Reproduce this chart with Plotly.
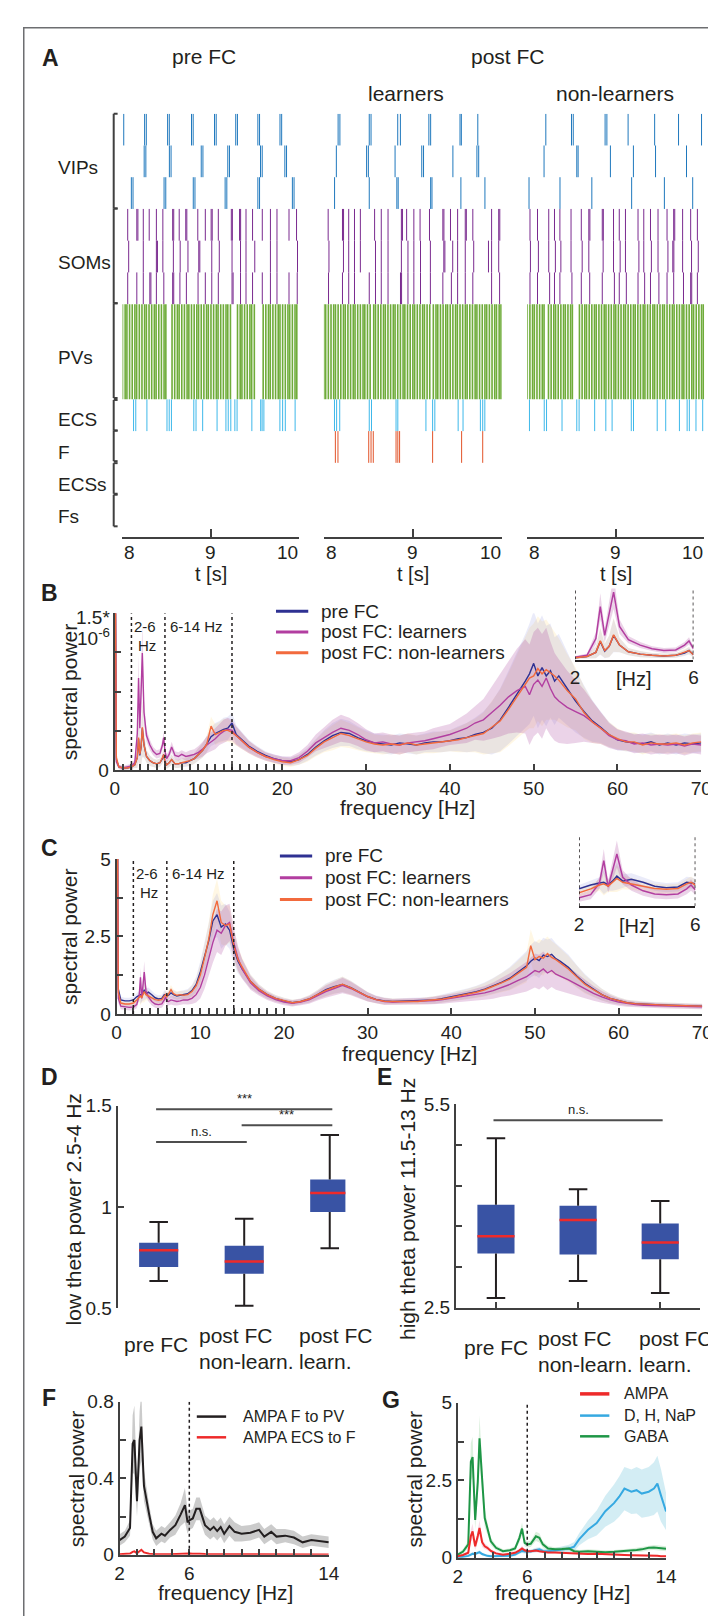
import plotly.graph_objects as go

W, H = 716, 1616
FONT = "Liberation Sans, Arial, Helvetica, sans-serif"
INK = "#231f20"
AXC = "#404040"

# ---------------- Panel A: spike rasters (times in s) ----------------
VIP_PRE = [[8.014, 8.250, 8.269, 8.510, 8.529, 8.780, 8.799, 9.040, 9.059, 9.280, 9.299, 9.530, 9.549, 9.780, 9.799],
           [8.245, 8.264, 8.530, 8.549, 8.890, 8.909, 9.190, 9.209, 9.560, 9.579, 9.835, 9.854],
           [8.100, 8.119, 8.470, 8.489, 8.800, 8.819, 9.160, 9.179, 9.530, 9.549, 9.920, 9.939]]
VIP_LEARN = [[8.160, 8.180, 8.510, 8.530, 8.830, 8.860, 9.180, 9.200, 9.530, 9.545, 9.730],
             [8.140, 8.480, 8.500, 8.800, 9.100, 9.120, 9.450, 9.720, 9.740],
             [8.120, 8.510, 8.820, 8.835, 9.200, 9.215, 9.540, 9.810]]
VIP_NON = [[8.210, 8.500, 8.520, 8.880, 8.900, 9.140, 9.440, 9.710, 9.970],
           [8.190, 8.560, 8.575, 8.940, 9.200, 9.450, 9.800],
           [8.020, 8.370, 8.730, 9.180, 9.550, 9.870]]

SOM_PRE = [[8.059, 8.162, 8.174, 8.235, 8.302, 8.383, 8.456, 8.567, 8.579, 8.641, 8.715, 8.727, 8.851, 8.936, 9.002, 9.014,
            9.083, 9.230, 9.242, 9.323, 9.335, 9.396, 9.470, 9.580, 9.672, 9.746, 9.882, 9.967],
           [8.070, 8.235, 8.383, 8.395, 8.456, 8.575, 8.652, 8.740, 8.862, 8.874, 9.009, 9.094, 9.238, 9.334, 9.396, 9.495,
            9.672, 9.746, 9.978],
           [8.059, 8.162, 8.235, 8.309, 8.321, 8.383, 8.467, 8.567, 8.579, 8.649, 8.722, 8.854, 8.936, 9.009, 9.083, 9.238,
            9.250, 9.334, 9.396, 9.470, 9.580, 9.672, 9.746, 9.882, 9.975]]
SOM_LEARN = [[8.048, 8.209, 8.221, 8.279, 8.344, 8.410, 8.570, 8.645, 8.721, 8.871, 8.883, 8.930, 9.011, 9.081, 9.187, 9.337,
              9.349, 9.423, 9.503, 9.589, 9.601, 9.674, 9.885, 9.965, 9.977],
             [8.057, 8.220, 8.279, 8.344, 8.410, 8.580, 8.645, 8.721, 8.871, 8.945, 9.011, 9.086, 9.197, 9.348, 9.360, 9.448,
              9.503, 9.589, 9.684, 9.850, 9.885, 9.965],
             [8.052, 8.209, 8.279, 8.344, 8.510, 8.580, 8.645, 8.721, 8.861, 8.873, 8.945, 9.011, 9.086, 9.197, 9.337, 9.433,
              9.503, 9.589, 9.674, 9.885, 9.975]]
SOM_NON = [[8.031, 8.116, 8.243, 8.308, 8.369, 8.495, 8.611, 8.696, 8.708, 8.848, 8.860, 8.975, 9.040, 9.110, 9.252, 9.317,
            9.393, 9.478, 9.580, 9.655, 9.667, 9.756, 9.847, 9.923],
           [8.036, 8.126, 8.243, 8.318, 8.380, 8.495, 8.621, 8.696, 8.858, 8.975, 9.050, 9.110, 9.262, 9.317, 9.403, 9.478,
            9.590, 9.645, 9.657, 9.756, 9.857, 9.933],
           [8.031, 8.116, 8.253, 8.308, 8.369, 8.505, 8.611, 8.706, 8.848, 8.985, 9.040, 9.120, 9.252, 9.327, 9.393, 9.488,
            9.580, 9.655, 9.766, 9.847, 9.859, 9.923]]

PV_PRE = [8.00, 8.03, 8.05, 8.08, 8.11, 8.14, 8.16, 8.19, 8.22, 8.25, 8.27, 8.30, 8.33, 8.36, 8.38, 8.41, 8.44, 8.47, 8.49,
          8.56, 8.59, 8.62, 8.64, 8.67, 8.70, 8.73, 8.75, 8.78, 8.81, 8.84, 8.86, 8.89, 8.92, 8.95, 8.97, 9.00, 9.03, 9.06,
          9.08, 9.11, 9.14, 9.17, 9.19, 9.22, 9.30, 9.33, 9.35, 9.38, 9.41, 9.44, 9.46, 9.49, 9.59, 9.62, 9.65, 9.67, 9.70,
          9.73, 9.76, 9.78, 9.81, 9.84, 9.87, 9.89, 9.92, 9.95, 9.97]
PV_LEARN = [8.00, 8.02, 8.05, 8.08, 8.11, 8.13, 8.16, 8.19, 8.22, 8.24, 8.27, 8.30, 8.33, 8.35, 8.38, 8.41, 8.44, 8.46, 8.49,
            8.52, 8.56, 8.58, 8.61, 8.64, 8.67, 8.69, 8.72, 8.75, 8.78, 8.80, 8.83, 8.86, 8.89, 8.91, 8.94, 8.97, 9.00, 9.02,
            9.05, 9.08, 9.11, 9.13, 9.16, 9.19, 9.23, 9.26, 9.28, 9.31, 9.34, 9.37, 9.39, 9.42, 9.45, 9.48, 9.50, 9.53, 9.56,
            9.59, 9.61, 9.64, 9.67, 9.70, 9.72, 9.75, 9.78, 9.81, 9.83, 9.86, 9.89, 9.92, 9.94, 9.97, 9.99]
PV_NON = [8.00, 8.03, 8.06, 8.08, 8.11, 8.14, 8.17, 8.19, 8.24, 8.27, 8.30, 8.32, 8.35, 8.38, 8.41, 8.43, 8.46, 8.49, 8.51,
          8.59, 8.62, 8.65, 8.67, 8.70, 8.73, 8.76, 8.78, 8.81, 8.84, 8.87, 8.89, 8.92, 8.95, 8.98, 9.00, 9.03, 9.06, 9.09,
          9.11, 9.14, 9.17, 9.20, 9.22, 9.25, 9.28, 9.31, 9.33, 9.36, 9.39, 9.42, 9.44, 9.47, 9.50, 9.53, 9.55, 9.58, 9.61,
          9.64, 9.66, 9.69, 9.72, 9.75, 9.77, 9.80, 9.83, 9.86, 9.88, 9.91, 9.94, 9.97, 9.99]

ECS_PRE = [8.125, 8.150, 8.276, 8.503, 8.528, 8.553, 8.806, 8.831, 8.906, 9.069, 9.169, 9.195, 9.224, 9.270, 9.295, 9.462,
           9.562, 9.578, 9.598, 9.779, 9.810, 9.840, 9.951]
ECS_LEARN = [8.119, 8.143, 8.178, 8.510, 8.535, 8.811, 8.831, 9.147, 9.222, 9.247, 9.509, 9.564, 9.759, 9.785, 9.809]
ECS_NON = [8.025, 8.192, 8.218, 8.393, 8.560, 8.586, 8.762, 8.888, 8.959, 9.176, 9.201, 9.469, 9.565, 9.720, 9.807, 9.832,
           9.907, 9.983]
F_LEARN = [8.129, 8.158, 8.504, 8.530, 8.555, 8.811, 8.831, 8.851, 9.222, 9.548, 9.785]

RASTER_TITLES = ["pre FC", "post FC", "learners", "non-learners"]
ROW_LABELS = ["VIPs", "SOMs", "PVs", "ECS", "F", "ECSs", "Fs"]
T_TICKS = [8, 9, 10]

# ---------------- Panels B & C: spectra ----------------
FREQ = [0, 0.2, 0.5, 1, 1.5, 2,
        2.4, 2.7, 2.85, 3.0, 3.15, 3.3, 3.5, 3.8, 4.2, 4.6, 5.0, 5.4, 5.7, 5.85, 6.0, 6.2, 6.5, 6.8, 7.2, 7.6, 8,
        8.5, 9, 9.5, 10, 10.5, 11, 11.5, 12, 12.5, 13, 13.5, 14, 14.5,
        15, 16, 17, 18, 19, 20, 21, 22, 23, 24, 25, 26, 27, 28, 29, 30, 31, 32, 33, 34, 35, 36, 37, 38, 39, 40,
        41, 42, 43, 44, 45, 46, 47, 48, 49,
        49.5, 50, 50.5, 51, 51.5, 52, 52.5, 53,
        54, 55, 56, 57, 58, 59, 60, 61, 62, 63, 64, 65, 66, 67, 68, 69, 70]

B_PRE = [3.0, 0.10, 0.03, 0.02, 0.02, 0.03,
         0.05, 0.12, 0.30, 0.14, 0.22, 0.40, 0.24, 0.13, 0.09, 0.07, 0.06, 0.07, 0.11, 0.15, 0.08, 0.05, 0.07, 0.10, 0.06, 0.06, 0.07,
         0.07, 0.09, 0.11, 0.15, 0.19, 0.25, 0.32, 0.35, 0.37, 0.39, 0.40, 0.45, 0.34,
         0.30, 0.23, 0.18, 0.14, 0.11, 0.09, 0.08, 0.10, 0.15, 0.22, 0.28, 0.33, 0.36, 0.35, 0.31, 0.28, 0.26, 0.25, 0.24, 0.26,
         0.25, 0.24, 0.26, 0.27, 0.27, 0.28, 0.30, 0.31, 0.34, 0.36, 0.40, 0.48, 0.60, 0.72, 0.85,
         0.92, 1.02, 0.90, 0.98, 0.90, 0.95, 0.85, 0.90,
         0.78, 0.66, 0.56, 0.47, 0.41, 0.34, 0.29, 0.27, 0.26, 0.25, 0.27, 0.24, 0.26, 0.24, 0.26, 0.25, 0.26]
B_LEARN = [3.0, 0.08, 0.03, 0.02, 0.03, 0.04,
           0.07, 0.35, 0.88, 0.40, 0.75, 1.12, 0.55, 0.33, 0.24, 0.18, 0.15, 0.16, 0.24, 0.31, 0.18, 0.11, 0.15, 0.22, 0.14, 0.13, 0.15,
           0.13, 0.14, 0.15, 0.17, 0.20, 0.24, 0.27, 0.30, 0.34, 0.37, 0.39, 0.38, 0.33,
           0.29, 0.22, 0.17, 0.13, 0.11, 0.09, 0.09, 0.12, 0.18, 0.26, 0.31, 0.36, 0.40, 0.38, 0.34, 0.29, 0.26, 0.27, 0.25, 0.24,
           0.26, 0.27, 0.28, 0.30, 0.32, 0.34, 0.37, 0.40, 0.45, 0.48, 0.55, 0.62, 0.70, 0.76, 0.80,
           0.72, 0.82, 0.86, 0.80, 0.88, 0.78, 0.70, 0.66,
           0.60, 0.56, 0.52, 0.46, 0.40, 0.33, 0.29, 0.28, 0.25, 0.26, 0.24, 0.25, 0.24, 0.25, 0.23, 0.25, 0.24]
B_NON = [3.0, 0.12, 0.03, 0.02, 0.02, 0.03,
         0.05, 0.12, 0.31, 0.15, 0.22, 0.41, 0.24, 0.13, 0.09, 0.07, 0.06, 0.07, 0.12, 0.15, 0.08, 0.05, 0.07, 0.10, 0.06, 0.06, 0.07,
         0.08, 0.09, 0.11, 0.15, 0.19, 0.25, 0.42, 0.34, 0.36, 0.38, 0.38, 0.36, 0.33,
         0.29, 0.22, 0.17, 0.13, 0.10, 0.08, 0.07, 0.10, 0.14, 0.21, 0.27, 0.31, 0.35, 0.33, 0.30, 0.27, 0.25, 0.24, 0.25, 0.24,
         0.26, 0.24, 0.25, 0.26, 0.27, 0.28, 0.29, 0.31, 0.33, 0.35, 0.41, 0.47, 0.58, 0.70, 0.82,
         0.88, 0.90, 0.97, 0.92, 0.96, 0.93, 0.90, 0.86,
         0.76, 0.68, 0.55, 0.46, 0.40, 0.34, 0.30, 0.27, 0.27, 0.24, 0.26, 0.25, 0.25, 0.26, 0.24, 0.26, 0.27]
B_ERR = [0.0, 0.03, 0.02, 0.02, 0.02, 0.02,
         0.03, 0.10, 0.22, 0.12, 0.18, 0.28, 0.12, 0.06, 0.05, 0.04, 0.04, 0.04, 0.05, 0.06, 0.04, 0.04, 0.04, 0.05, 0.04, 0.04, 0.04,
         0.04, 0.05, 0.05, 0.06, 0.07, 0.08, 0.09, 0.10, 0.10, 0.11, 0.11, 0.10, 0.09,
         0.08, 0.06, 0.05, 0.04, 0.04, 0.04, 0.04, 0.05, 0.06, 0.08, 0.10, 0.12, 0.13, 0.12, 0.11, 0.10, 0.09, 0.09, 0.09, 0.09,
         0.09, 0.09, 0.09, 0.10, 0.10, 0.10, 0.12, 0.14, 0.16, 0.20, 0.25, 0.30, 0.35, 0.40, 0.45,
         0.48, 0.50, 0.50, 0.50, 0.48, 0.45, 0.42, 0.40,
         0.35, 0.30, 0.25, 0.20, 0.15, 0.12, 0.10, 0.09, 0.09, 0.09, 0.09, 0.09, 0.09, 0.09, 0.09, 0.09, 0.09]

C_PRE = [12, 0.80, 0.45, 0.42, 0.42, 0.45,
         0.55, 0.60, 0.62, 0.55, 0.65, 0.78, 0.65, 0.70, 0.62, 0.52, 0.48, 0.50, 0.62, 0.60, 0.58, 0.60, 0.68, 0.62, 0.58, 0.60, 0.62,
         0.65, 0.75, 0.95, 1.35, 1.85, 2.35, 3.00, 3.20, 2.80, 2.90, 2.70, 2.10, 1.70,
         1.45, 1.05, 0.80, 0.62, 0.50, 0.42, 0.36, 0.40, 0.48, 0.62, 0.78, 0.88, 0.95, 0.85, 0.70, 0.56, 0.47, 0.42, 0.40, 0.41,
         0.40, 0.42, 0.43, 0.45, 0.50, 0.55, 0.60, 0.66, 0.72, 0.80, 0.90, 1.02, 1.15, 1.35, 1.55,
         1.70, 1.80, 1.72, 1.90, 1.85, 1.92, 1.78, 1.70,
         1.50, 1.22, 0.98, 0.80, 0.62, 0.50, 0.42, 0.36, 0.33, 0.31, 0.30, 0.29, 0.28, 0.27, 0.26, 0.26, 0.25]
C_LEARN = [12, 0.50, 0.25, 0.22, 0.21, 0.22,
           0.30, 0.60, 1.18, 0.50, 0.95, 1.35, 0.75, 0.55, 0.40, 0.32, 0.30, 0.32, 0.45, 0.55, 0.42, 0.40, 0.45, 0.42, 0.40, 0.42, 0.45,
           0.45, 0.50, 0.62, 0.85, 1.25, 1.80, 2.30, 2.70, 2.60, 2.85, 2.95, 2.30, 1.80,
           1.45, 1.00, 0.75, 0.58, 0.46, 0.38, 0.34, 0.38, 0.45, 0.58, 0.72, 0.82, 0.92, 0.82, 0.68, 0.55, 0.46, 0.40, 0.38, 0.39,
           0.40, 0.40, 0.41, 0.43, 0.46, 0.50, 0.54, 0.58, 0.63, 0.68, 0.75, 0.85, 0.95, 1.08, 1.20,
           1.30, 1.40, 1.35, 1.45, 1.32, 1.40, 1.28, 1.22,
           1.10, 0.95, 0.80, 0.66, 0.55, 0.45, 0.38, 0.33, 0.30, 0.28, 0.27, 0.26, 0.25, 0.25, 0.24, 0.23, 0.23]
C_NON = [12, 0.70, 0.35, 0.32, 0.32, 0.35,
         0.45, 0.55, 0.58, 0.52, 0.62, 0.72, 0.62, 0.58, 0.52, 0.46, 0.44, 0.46, 0.58, 0.62, 0.55, 0.65, 0.78, 0.65, 0.60, 0.62, 0.60,
         0.62, 0.72, 0.90, 1.25, 1.80, 2.40, 3.20, 3.65, 2.95, 2.85, 2.90, 2.20, 1.75,
         1.50, 1.05, 0.80, 0.62, 0.50, 0.42, 0.36, 0.40, 0.48, 0.62, 0.76, 0.86, 0.96, 0.84, 0.70, 0.56, 0.46, 0.41, 0.40, 0.40,
         0.41, 0.40, 0.43, 0.45, 0.48, 0.53, 0.58, 0.64, 0.70, 0.78, 0.88, 1.00, 1.12, 1.30, 1.50,
         2.20, 1.75, 1.85, 1.80, 1.95, 1.82, 1.75, 1.65,
         1.45, 1.20, 0.95, 0.78, 0.62, 0.50, 0.42, 0.36, 0.33, 0.31, 0.30, 0.29, 0.28, 0.27, 0.26, 0.25, 0.25]
C_ERR = [0.0, 0.15, 0.10, 0.10, 0.10, 0.10,
         0.12, 0.15, 0.30, 0.15, 0.25, 0.35, 0.18, 0.15, 0.13, 0.12, 0.12, 0.12, 0.14, 0.15, 0.13, 0.13, 0.15, 0.14, 0.13, 0.13, 0.14,
         0.15, 0.18, 0.25, 0.35, 0.45, 0.55, 0.65, 0.70, 0.70, 0.65, 0.60, 0.50, 0.40,
         0.32, 0.22, 0.16, 0.13, 0.11, 0.10, 0.10, 0.10, 0.12, 0.15, 0.20, 0.22, 0.25, 0.22, 0.18, 0.15, 0.12, 0.11, 0.10, 0.10,
         0.10, 0.10, 0.11, 0.12, 0.13, 0.14, 0.15, 0.17, 0.19, 0.22, 0.26, 0.30, 0.36, 0.42, 0.48,
         0.52, 0.55, 0.56, 0.56, 0.55, 0.53, 0.50, 0.47,
         0.42, 0.36, 0.30, 0.24, 0.19, 0.15, 0.12, 0.10, 0.09, 0.09, 0.08, 0.08, 0.08, 0.08, 0.08, 0.08, 0.08]

SPEC_NAMES = ["pre FC", "post FC: learners", "post FC: non-learners"]
BANDS = [(2, 6, "2-6", "Hz"), (6, 14, "6-14 Hz", "")]

# ---------------- Panels D & E: box plots ----------------
BOX_CATS = ["pre FC", "post FC\nnon-learn.", "post FC\nlearn."]
D_LO = [0.633, 0.511, 0.795]
D_Q1 = [0.703, 0.669, 0.974]
D_MED = [0.786, 0.730, 1.068]
D_Q3 = [0.823, 0.808, 1.135]
D_HI = [0.925, 0.941, 1.355]
D_SIG = [(0, 2, 1.482, "***"), (1, 2, 1.403, "***"), (0, 1, 1.320, "n.s.")]
E_LO = [2.645, 2.893, 2.718]
E_Q1 = [3.300, 3.286, 3.214]
E_MED = [3.555, 3.796, 3.461]
E_Q3 = [4.020, 4.006, 3.744]
E_HI = [5.000, 4.248, 4.073]
E_SIG = [(0, 2, 5.267, "n.s.")]

# ---------------- Panels F & G ----------------
FF = [2.0, 2.3, 2.6, 2.75, 2.85, 3.0, 3.15, 3.25, 3.4, 3.55, 3.7, 3.9, 4.1, 4.4, 4.6, 4.9, 5.2, 5.5, 5.75, 5.9, 6.0,
      6.2, 6.4, 6.6, 6.9, 7.2, 7.4, 7.6, 7.8, 8.0, 8.3, 8.6, 9.0, 9.5, 10.0, 10.3, 10.7, 11.0, 11.5, 12.0, 12.5, 13.0,
      13.5, 14.0]
F_FPV = [0.077, 0.095, 0.14, 0.58, 0.60, 0.28, 0.60, 0.67, 0.36, 0.28, 0.21, 0.12, 0.086, 0.11, 0.10, 0.13, 0.155,
         0.21, 0.26, 0.17, 0.18, 0.19, 0.24, 0.24, 0.155, 0.13, 0.146, 0.124, 0.145, 0.11, 0.15, 0.12, 0.11, 0.115,
         0.13, 0.095, 0.12, 0.095, 0.10, 0.09, 0.065, 0.077, 0.072, 0.065]
F_FPV_ERR = [0.03, 0.03, 0.04, 0.15, 0.18, 0.08, 0.15, 0.18, 0.08, 0.06, 0.05, 0.04, 0.04, 0.04, 0.04, 0.04, 0.05,
             0.06, 0.09, 0.06, 0.05, 0.05, 0.06, 0.06, 0.05, 0.05, 0.05, 0.05, 0.05, 0.05, 0.05, 0.05, 0.04, 0.04,
             0.04, 0.04, 0.04, 0.04, 0.035, 0.035, 0.03, 0.03, 0.03, 0.03]
F_ECSF = [0.003, 0.004, 0.006, 0.015, 0.018, 0.008, 0.02, 0.026, 0.012, 0.008, 0.005, 0.004, 0.003, 0.003, 0.003,
          0.003, 0.004, 0.005, 0.008, 0.006, 0.006, 0.005, 0.006, 0.005, 0.004, 0.004, 0.004, 0.004, 0.003, 0.003,
          0.003, 0.003, 0.003, 0.003, 0.003, 0.003, 0.003, 0.003, 0.002, 0.002, 0.002, 0.002, 0.002, 0.002]
F_NAMES = ["AMPA F to PV", "AMPA ECS to F"]

GF = [2.0, 2.3, 2.6, 2.75, 2.85, 3.0, 3.15, 3.25, 3.4, 3.55, 3.7, 3.9, 4.2, 4.6, 5.0, 5.3, 5.55, 5.7, 5.85, 6.0,
      6.2, 6.5, 6.7, 6.9, 7.2, 7.6, 8.0, 8.4, 8.7, 9.0, 9.5, 10.0, 10.5, 11.0, 11.3, 11.6, 12.0, 12.3, 12.6, 13.0,
      13.3, 13.5, 13.7, 14.0]
G_AMPA = [0.05, 0.09, 0.16, 0.70, 0.85, 0.37, 0.70, 0.96, 0.50, 0.37, 0.32, 0.22, 0.14, 0.10, 0.13, 0.16, 0.24, 0.30,
          0.24, 0.21, 0.21, 0.23, 0.21, 0.19, 0.17, 0.17, 0.16, 0.15, 0.14, 0.13, 0.12, 0.13, 0.11, 0.10, 0.09, 0.09,
          0.08, 0.08, 0.07, 0.06, 0.06, 0.06, 0.05, 0.05]
G_AMPA_ERR = [0.03, 0.04, 0.06, 0.2, 0.25, 0.12, 0.2, 0.25, 0.15, 0.1, 0.08, 0.06, 0.05, 0.04, 0.04, 0.05, 0.06, 0.08,
              0.06, 0.05, 0.05, 0.05, 0.05, 0.04, 0.04, 0.04, 0.04, 0.04, 0.04, 0.03, 0.03, 0.03, 0.03, 0.03, 0.03, 0.03,
              0.03, 0.03, 0.03, 0.03, 0.03, 0.03, 0.03, 0.03]
G_DHNAP = [0.00, 0.03, 0.06, 0.10, 0.13, 0.12, 0.16, 0.18, 0.12, 0.08, 0.06, 0.05, 0.05, 0.05, 0.06, 0.10, 0.18, 0.22,
           0.20, 0.19, 0.20, 0.25, 0.27, 0.22, 0.21, 0.23, 0.26, 0.30, 0.36, 0.60, 0.90, 1.12, 1.50, 1.76, 1.97, 2.23,
           2.13, 2.18, 2.07, 2.13, 2.23, 2.39, 2.02, 1.49]
G_DHNAP_ERR = [0.03, 0.03, 0.04, 0.05, 0.05, 0.05, 0.05, 0.06, 0.05, 0.04, 0.04, 0.04, 0.04, 0.04, 0.04, 0.05, 0.06,
               0.07, 0.06, 0.06, 0.06, 0.07, 0.07, 0.07, 0.07, 0.08, 0.1, 0.12, 0.15, 0.2, 0.3, 0.4, 0.5, 0.6, 0.65,
               0.7, 0.72, 0.75, 0.78, 0.8, 0.85, 0.9, 0.85, 0.6]
G_GABA = [0.10, 0.20, 0.43, 3.10, 3.25, 1.22, 2.45, 3.85, 2.55, 1.28, 0.96, 0.53, 0.32, 0.21, 0.24, 0.30, 0.64, 0.94,
          0.48, 0.43, 0.45, 0.69, 0.64, 0.43, 0.30, 0.27, 0.28, 0.30, 0.21, 0.19, 0.21, 0.19, 0.18, 0.19, 0.20, 0.21,
          0.23, 0.25, 0.27, 0.32, 0.33, 0.32, 0.31, 0.29]
G_GABA_ERR = [0.05, 0.08, 0.12, 0.6, 0.65, 0.3, 0.5, 0.75, 0.5, 0.3, 0.2, 0.12, 0.08, 0.06, 0.06, 0.08, 0.15, 0.2,
              0.12, 0.1, 0.1, 0.15, 0.15, 0.1, 0.08, 0.07, 0.07, 0.07, 0.06, 0.06, 0.06, 0.06, 0.06, 0.06, 0.06, 0.06,
              0.07, 0.07, 0.08, 0.08, 0.08, 0.08, 0.08, 0.08]
G_NAMES = ["AMPA", "D, H, NaP", "GABA"]

for arr in (B_PRE, B_LEARN, B_NON, B_ERR, C_PRE, C_LEARN, C_NON, C_ERR):
    assert len(arr) == len(FREQ), len(arr)
for arr in (F_FPV, F_FPV_ERR, F_ECSF):
    assert len(arr) == len(FF)
for arr in (G_AMPA, G_AMPA_ERR, G_DHNAP, G_DHNAP_ERR, G_GABA, G_GABA_ERR):
    assert len(arr) == len(GF)

# ---------------- styling ----------------
C_VIP, C_SOM, C_PV, C_ECS, C_F = "#1f78bd", "#7a2a8f", "#6fac3a", "#3db8ea", "#e2542a"
C_PRE_L, C_LEARN_L, C_NON_L = "#2e3192", "#b23ea0", "#f26a3d"
BAND_PRE, BAND_LEARN, BAND_NON = "rgba(90,100,210,0.13)", "rgba(170,70,160,0.24)", "rgba(255,215,120,0.2)"
BOX_FILL, MED_C = "#3953a4", "#ee2a2a"


def px(x):
    return x / W


def py(y):
    return 1 - y / H


fig = go.Figure()
axes = {}
ann = []
shapes = []

AX = dict(showline=True, linecolor=AXC, linewidth=2, ticks="inside", tickcolor=AXC, tickwidth=1.5, ticklen=6,
          tickfont=dict(size=19, color=INK), showgrid=False, zeroline=False, fixedrange=True)


def add_axes(i, xdom, ydom, xr, yr, xkw, ykw):
    xid = "x" if i == 1 else f"x{i}"
    yid = "y" if i == 1 else f"y{i}"
    xa = dict(AX, domain=[px(xdom[0]), px(xdom[1])], range=xr, anchor=yid)
    ya = dict(AX, domain=[py(ydom[1]), py(ydom[0])], range=yr, anchor=xid)
    xa.update(xkw)
    ya.update(ykw)
    axes["xaxis" if i == 1 else f"xaxis{i}"] = xa
    axes["yaxis" if i == 1 else f"yaxis{i}"] = ya
    return xid, yid


def text(t, x, y, size=19, xa="center", ya="middle", bold=False, angle=0, color=INK):
    if bold:
        t = f"<b>{t}</b>"
    ann.append(dict(text=t, x=px(x), y=py(y), xref="paper", yref="paper", showarrow=False, xanchor=xa,
                    yanchor=ya, textangle=angle, font=dict(size=size, color=color, family=FONT)))


def pline(x0, y0, x1, y1, color=AXC, width=2, dash="solid"):
    shapes.append(dict(type="line", xref="paper", yref="paper", x0=px(x0), y0=py(y0), x1=px(x1), y1=py(y1),
                       line=dict(color=color, width=width, dash=dash)))


def spikes(times, r0, r1, color, xid, yid, width=1.0):
    xs, ys = [], []
    for t in times:
        xs += [t, t, None]
        ys += [r0, r1, None]
    fig.add_trace(go.Scatter(x=xs, y=ys, mode="lines", line=dict(color=color, width=width),
                             xaxis=xid, yaxis=yid, hoverinfo="skip"))


def band(xv, yv, err, color, xid, yid):
    up = [v + e for v, e in zip(yv, err)]
    lo = [max(v - e, 0) for v, e in zip(yv, err)]
    fig.add_trace(go.Scatter(x=list(xv) + list(xv)[::-1], y=up + lo[::-1], fill="toself", fillcolor=color,
                             line=dict(width=0), mode="lines", xaxis=xid, yaxis=yid, hoverinfo="skip"))


def curve(xv, yv, color, xid, yid, width=1.5):
    fig.add_trace(go.Scatter(x=xv, y=yv, mode="lines", line=dict(color=color, width=width),
                             xaxis=xid, yaxis=yid, hoverinfo="skip"))


# ================= Panel A =================
RASTER_X = [(112, 293), (318, 500), (526, 707)]
RASTER_DATA = [(VIP_PRE, SOM_PRE, PV_PRE, ECS_PRE, []),
               (VIP_LEARN, SOM_LEARN, PV_LEARN, ECS_LEARN, F_LEARN),
               (VIP_NON, SOM_NON, PV_NON, ECS_NON, [])]
for k, (xd, data) in enumerate(zip(RASTER_X, RASTER_DATA)):
    xid, yid = add_axes(k + 1, xd, (97, 515), [8, 10], [13, 0],
                        dict(anchor="free", position=py(527), tickvals=T_TICKS, ticklen=8, tickwidth=2,
                             showticklabels=False),
                        dict(visible=False))
    vip, som, pv, ecs, fsp = data
    for r, row in enumerate(vip):
        spikes(row, r, r + 1, C_VIP, xid, yid)
    for r, row in enumerate(som):
        spikes(row, 3 + r, 4 + r, C_SOM, xid, yid)
    spikes(pv, 6, 9, C_PV, xid, yid, width=1.6)
    spikes(ecs, 9, 10, C_ECS, xid, yid)
    spikes(fsp, 10, 11, C_F, xid, yid)
    # tick labels: first left-aligned, middle centred, last right-aligned to the axis ends
    text(str(T_TICKS[0]), xd[0], 542, size=19, xa="left")
    text(str(T_TICKS[1]), (xd[0] + xd[1]) / 2, 542, size=19)
    text(str(T_TICKS[2]), xd[1] + 1, 542, size=19, xa="right")
    text("t [s]", (xd[0] + xd[1]) / 2, 563, size=20)

text("A", 38, 41, size=23, bold=True)
text(RASTER_TITLES[0], 195, 39, size=21)
text(RASTER_TITLES[1], 506, 39, size=21)
text(RASTER_TITLES[2], 402, 76, size=21)
text(RASTER_TITLES[3], 616, 76, size=21)

BRACKETS = [(97, 193), (193, 289), (289, 385), (387, 418), (418, 449), (451, 482), (483, 515)]
LABEL_Y = [151, 248, 344, 407, 440, 473, 505]
for (y0, y1), lab, ly in zip(BRACKETS, ROW_LABELS, LABEL_Y):
    pline(103, y0, 103, y1, width=2)
    pline(103, y0, 107, y0, width=2)
    pline(103, y1, 107, y1, width=2)
    text(lab, 44, ly, size=19, xa="left")


# ================= Panel B & C =================
def spectrum_panel(i, xd, yd, yr, yticks, yticktext, pre, learn, non, err, letter, letter_y, legend_y, legend_x,
                   band_lab_y, title_y, inset_i, inset_xd, inset_yd, inset_top):
    minor = list(range(0, 21)) + [30, 40, 50, 60, 70]
    xid, yid = add_axes(i, xd, yd, [0, 70], yr,
                        dict(tickvals=minor, ticktext=[str(v) if v % 10 == 0 else "" for v in minor]),
                        dict(tickvals=yticks, ticktext=yticktext))
    for yv, c in ((non, BAND_NON), (pre, BAND_PRE), (learn, BAND_LEARN)):
        band(FREQ, yv, err, c, xid, yid)
    for yv, c in ((pre, C_PRE_L), (learn, C_LEARN_L), (non, C_NON_L)):
        curve(FREQ, yv, c, xid, yid, 1.4)
    for fv in (2, 6, 14):
        shapes.append(dict(type="line", xref=xid, yref=yid, x0=fv, x1=fv, y0=0, y1=yr[1],
                           line=dict(color=INK, width=1.5, dash="dot")))
    scale = (xd[1] - xd[0]) / 70.0
    text(BANDS[0][2], xd[0] + 3.6 * scale, band_lab_y, size=15)
    text(BANDS[0][3], xd[0] + 3.9 * scale, band_lab_y + 19, size=15)
    text(BANDS[1][2], xd[0] + 9.8 * scale, band_lab_y, size=15)
    text(letter, 37, letter_y, size=23, bold=True)
    text("frequency [Hz]", (xd[0] + xd[1]) / 2, title_y, size=21)
    text("spectral power", 58, (yd[0] + yd[1]) / 2, size=21, angle=-90)
    for name, c, ly in zip(SPEC_NAMES, (C_PRE_L, C_LEARN_L, C_NON_L), legend_y):
        pline(legend_x, ly, legend_x + 33, ly, color=c, width=3)
        text(name, legend_x + 44, ly, size=19, xa="left")
    # inset
    sel = [j for j, f in enumerate(FREQ) if 2 <= f <= 6]
    fx = [FREQ[j] for j in sel]
    ixid, iyid = add_axes(inset_i, inset_xd, inset_yd, [2, 6], [0, inset_top],
                          dict(linecolor=INK, ticks="", tickvals=[2, 6], ticktext=["2", "6"]),
                          dict(visible=False))
    for yv, c in ((non, BAND_NON), (pre, BAND_PRE), (learn, BAND_LEARN)):
        band(fx, [yv[j] for j in sel], [err[j] for j in sel], c, ixid, iyid)
    for yv, c in ((pre, C_PRE_L), (learn, C_LEARN_L), (non, C_NON_L)):
        curve(fx, [yv[j] for j in sel], c, ixid, iyid, 1.5)
    for fv in (2, 6):
        shapes.append(dict(type="line", xref=ixid, yref=iyid, x0=fv, x1=fv, y0=0, y1=inset_top,
                           line=dict(color=INK, width=1.5, dash="dot")))
    text("[Hz]", (inset_xd[0] + inset_xd[1]) / 2, inset_yd[1] + 20, size=20)


spectrum_panel(4, (104, 704), (603, 762), [0, 1.5], [0, 0.375, 0.75, 1.125, 1.5], ["0", "", "", "", ""],
               B_PRE, B_LEARN, B_NON, B_ERR, "B", 583, (601, 622, 643), 269, 617, 800,
               5, (575, 696), (578, 650), 1.18)
text("1.5*", 101, 607, size=19, xa="right")
text("10<sup>-6</sup>", 101, 627, size=19, xa="right")

spectrum_panel(6, (106, 705), (852, 1009), [0, 5], [0, 1.25, 2.5, 3.75, 5], ["0", "", "2.5", "", "5"],
               C_PRE, C_LEARN, C_NON, C_ERR, "C", 841, (849, 871, 893), 273, 867, 1049,
               7, (579, 698), (827, 900), 1.86)


# ================= Panels D & E =================
def box_panel(i, xd, yd, xr, yr, yticks, yticktext, lo, q1, med, q3, hi, sig, showx, box_w, cap_w,
              ytitle, ytitle_x, letter, letter_x, cat_x, cat_y):
    xid, yid = add_axes(i, xd, yd, xr, yr,
                        dict(tickvals=[1, 2, 3], showticklabels=False) if showx else dict(visible=False),
                        dict(tickvals=yticks, ticktext=yticktext))
    pos = [1, 2, 3]
    for k in range(3):
        fig.add_trace(go.Scatter(x=[pos[k], pos[k], None, pos[k], pos[k], None,
                                    pos[k] - cap_w / 2, pos[k] + cap_w / 2, None,
                                    pos[k] - cap_w / 2, pos[k] + cap_w / 2],
                                 y=[q3[k], hi[k], None, q1[k], lo[k], None, hi[k], hi[k], None, lo[k], lo[k]],
                                 mode="lines", line=dict(color=INK, width=2), xaxis=xid, yaxis=yid,
                                 hoverinfo="skip"))
    fig.add_trace(go.Bar(x=pos, y=[b - a for a, b in zip(q1, q3)], base=q1, width=box_w,
                         marker=dict(color=BOX_FILL, line=dict(width=0)), xaxis=xid, yaxis=yid,
                         hoverinfo="skip"))
    mx, my = [], []
    for k in range(3):
        mx += [pos[k] - box_w / 2, pos[k] + box_w / 2, None]
        my += [med[k], med[k], None]
    fig.add_trace(go.Scatter(x=mx, y=my, mode="lines", line=dict(color=MED_C, width=2.5), xaxis=xid, yaxis=yid,
                             hoverinfo="skip"))
    for a, b, yy, lab in sig:
        fig.add_trace(go.Scatter(x=[pos[a] - 0.03, pos[b] + 0.03], y=[yy, yy], mode="lines",
                                 line=dict(color="#4d4d4d", width=2), xaxis=xid, yaxis=yid, hoverinfo="skip"))
        ann.append(dict(text=lab, x=(pos[a] + pos[b]) / 2, y=yy, xref=xid, yref=yid, showarrow=False,
                        yanchor="bottom", yshift=1, font=dict(size=13, color=INK, family=FONT)))
    text(ytitle, ytitle_x, (yd[0] + yd[1]) / 2 + 3, size=21, angle=-90)
    text(letter, letter_x, 1073, size=23, bold=True)
    for k, lab in enumerate(BOX_CATS):
        lines = lab.split("\n")
        if len(lines) == 1:
            text(lines[0], cat_x[k], cat_y + 9, size=21, xa="left")
        else:
            text(lines[0], cat_x[k], cat_y, size=21, xa="left")
            text(lines[1], cat_x[k], cat_y + 26, size=21, xa="left")


box_panel(8, (107, 340), (1102, 1307), [0.52, 3.183], [0.5, 1.5], [0.5, 1, 1.5], ["0.5", "1", "1.5"],
          D_LO, D_Q1, D_MED, D_Q3, D_HI, D_SIG, False, 0.457, 0.217,
          "low theta power 2.5-4 Hz", 62, "D", 37, (111, 188, 291), 1335)
box_panel(9, (453, 703), (1100.7, 1306.7), [0.512, 3.488], [2.5, 5.5], [2.5, 3.1, 3.7, 4.3, 4.9, 5.5],
          ["2.5", "", "", "", "", "5.5"], E_LO, E_Q1, E_MED, E_Q3, E_HI, E_SIG, True, 0.452, 0.226,
          "high theta power 11.5-13 Hz", 403, "E", 380, (459, 535, 638), 1338)

# ================= Panels F & G =================
ftick = list(range(2, 15))
fticktext = [str(v) if v in (2, 6, 14) else "" for v in ftick]
xid, yid = add_axes(10, (109, 323), (1402, 1557), [2, 14], [0, 0.8],
                    dict(tickvals=ftick, ticktext=fticktext),
                    dict(tickvals=[0, 0.2, 0.4, 0.6, 0.8], ticktext=["0", "", "0.4", "", "0.8"]))
band(FF, F_FPV, F_FPV_ERR, "rgba(140,140,140,0.45)", xid, yid)
curve(FF, F_FPV, INK, xid, yid, 2)
curve(FF, F_ECSF, "#ee2a2a", xid, yid, 2)
shapes.append(dict(type="line", xref=xid, yref=yid, x0=6, x1=6, y0=0, y1=0.8,
                   line=dict(color=INK, width=1.5, dash="dot")))
text("F", 37, 1398, size=23, bold=True)
text("spectral power", 65, 1480, size=21, angle=-90)
text("frequency [Hz]", 217, 1595, size=21)
for name, c, ly in zip(F_NAMES, (INK, "#ee2a2a"), (1417, 1438)):
    pline(188, ly, 218, ly, color=c, width=2.5)
    text(name, 233, ly, size=16, xa="left")

xid, yid = add_axes(11, (455, 668), (1403, 1560), [2, 14], [0, 5],
                    dict(tickvals=ftick, ticktext=fticktext),
                    dict(tickvals=[0, 1.25, 2.5, 3.75, 5], ticktext=["0", "", "2.5", "", "5"]))
band(GF, G_AMPA, G_AMPA_ERR, "rgba(225,80,140,0.2)", xid, yid)
band(GF, G_DHNAP, G_DHNAP_ERR, "rgba(110,195,220,0.3)", xid, yid)
band(GF, G_GABA, G_GABA_ERR, "rgba(80,180,90,0.2)", xid, yid)
G_COLS = ["#ee2a2a", "#36a9e1", "#1e9646"]
curve(GF, G_DHNAP, G_COLS[1], xid, yid, 2)
curve(GF, G_GABA, G_COLS[2], xid, yid, 2)
curve(GF, G_AMPA, G_COLS[0], xid, yid, 2)
shapes.append(dict(type="line", xref=xid, yref=yid, x0=6, x1=6, y0=0, y1=5,
                   line=dict(color=INK, width=1.5, dash="dot")))
text("G", 387, 1400, size=23, bold=True)
text("spectral power", 411, 1480, size=21, angle=-90)
text("frequency [Hz]", 562, 1595, size=21)
for name, c, ly, wdt in zip(G_NAMES, G_COLS, (1394, 1416, 1437), (3.5, 2.5, 2.5)):
    pline(580, ly, 610, ly, color=c, width=wdt)
    text(name, 623, ly, size=16, xa="left")

# frame
shapes.append(dict(type="rect", xref="paper", yref="paper", x0=px(11), y0=py(10), x1=px(740), y1=py(1640),
                   line=dict(color="#6d6e71", width=1.5)))

fig.update_layout(width=W, height=H, margin=dict(l=0, r=0, t=0, b=0), paper_bgcolor="white",
                  plot_bgcolor="rgba(0,0,0,0)", showlegend=False, font=dict(family=FONT, size=19, color=INK),
                  annotations=ann, shapes=shapes, barmode="overlay", **axes)
fig.write_html("out.html")
